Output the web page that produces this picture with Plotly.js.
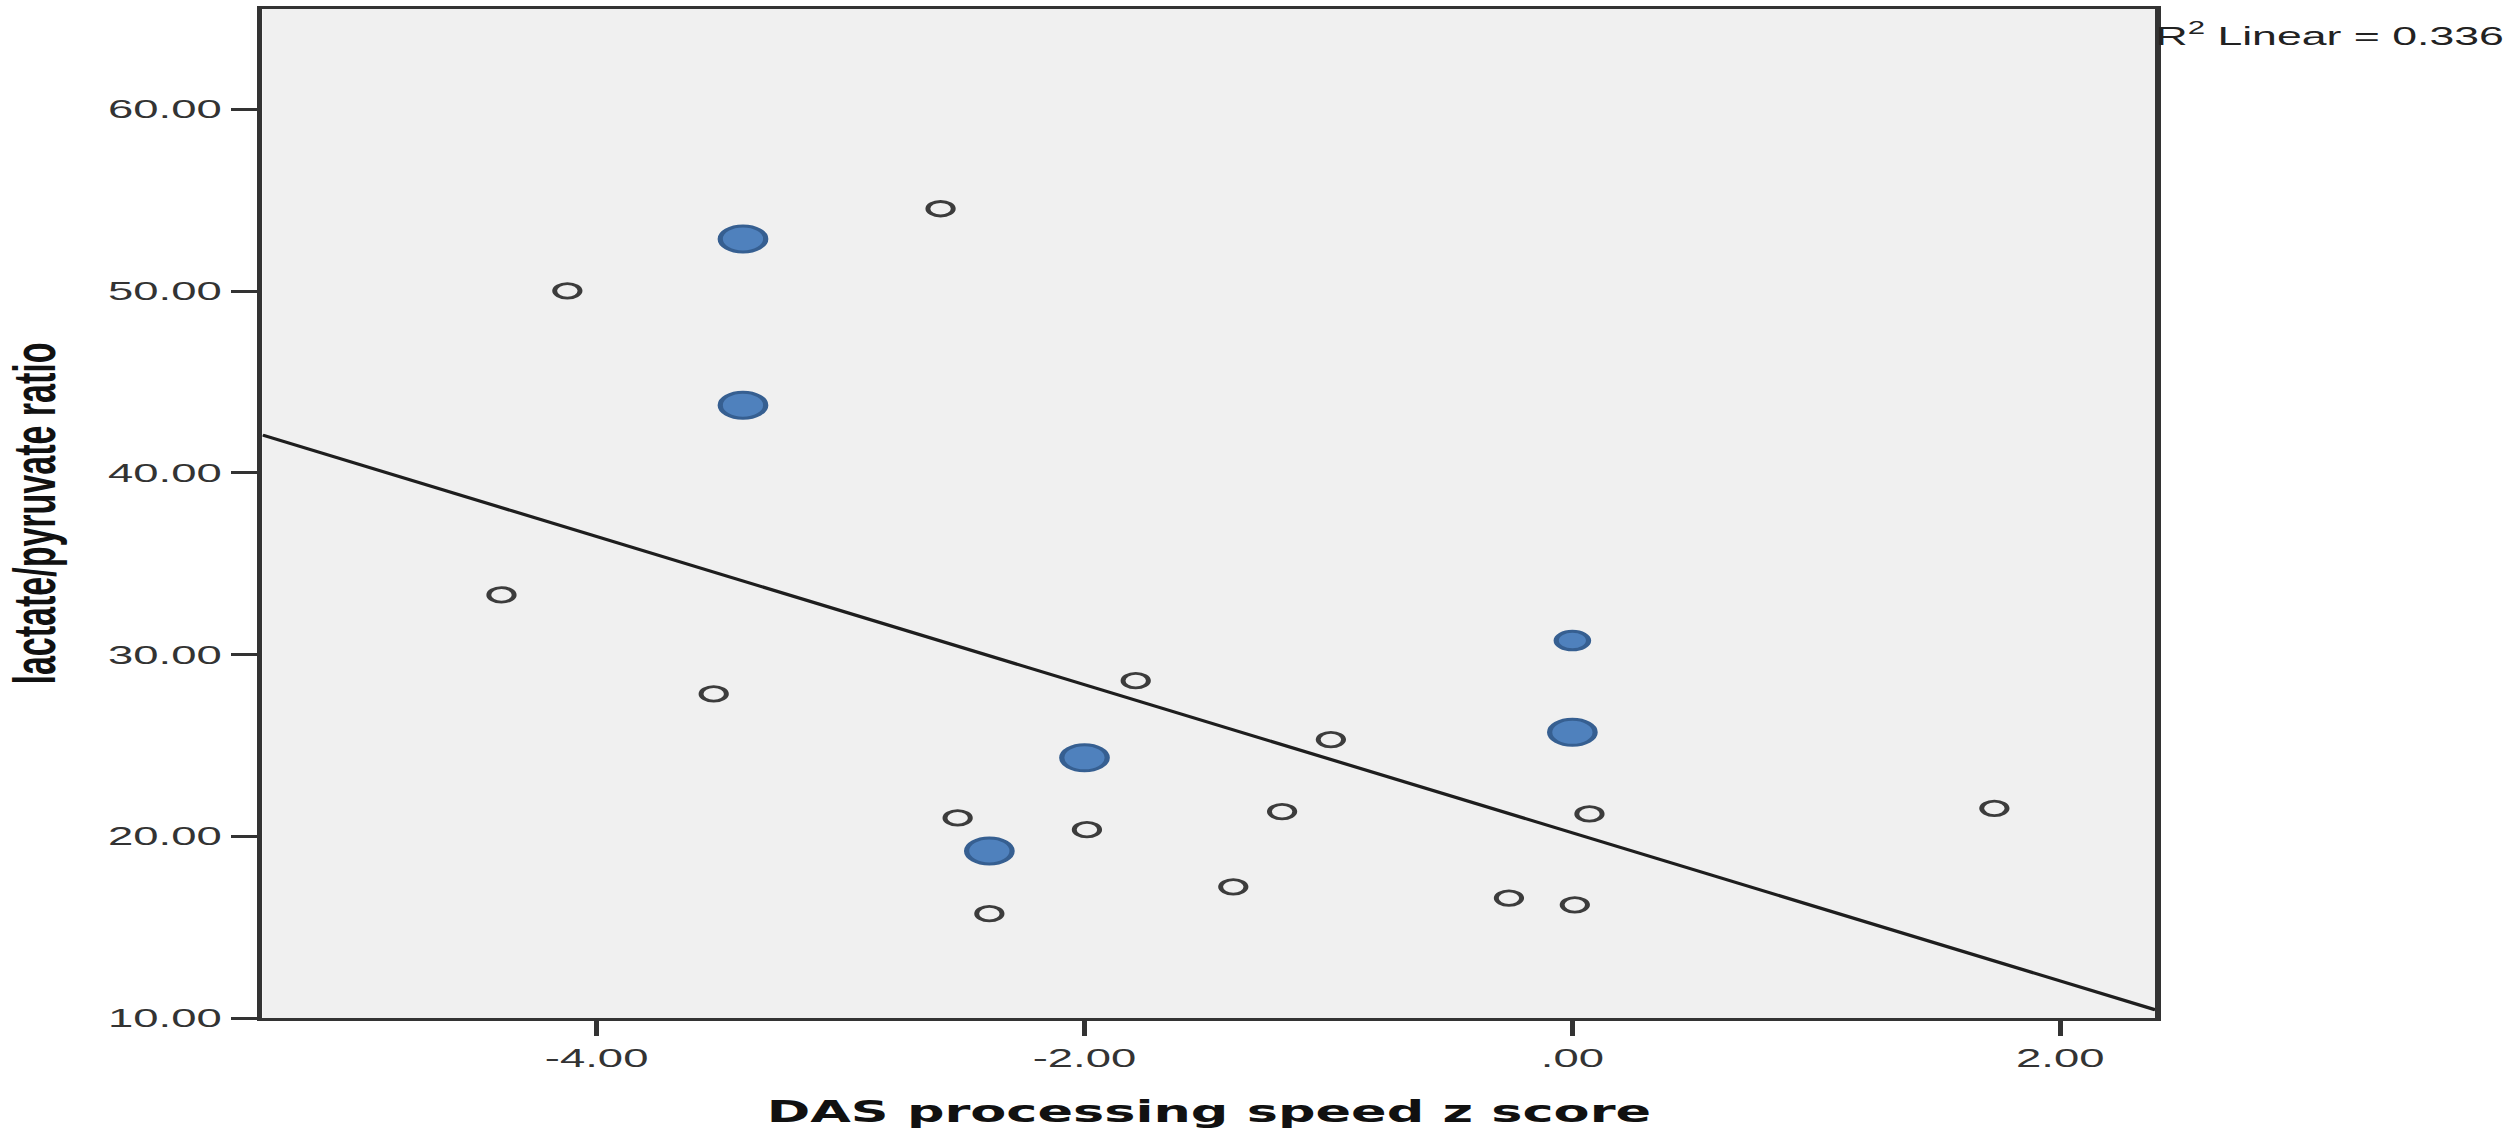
<!DOCTYPE html>
<html>
<head>
<meta charset="utf-8">
<script src="https://cdn.plot.ly/plotly-3.0.1.min.js"></script>
<style>
  html, body { margin: 0; padding: 0; background: #ffffff; overflow: hidden; }
  #wrap { width: 2507px; height: 1133px; overflow: hidden; }
  #chart { width: 1433px; height: 1133px; transform: scaleX(1.7495); transform-origin: 0 0; }
</style>
</head>
<body>
<div id="wrap"><div id="chart"></div></div>
<script>
// ---- data ----
const openX = [-4.39, -4.12, -3.52, -2.59, -2.52, -2.39, -1.99, -1.79, -1.39, -1.19, -0.99, -0.26, 0.01, 0.07, 1.73];
const openY = [33.28, 50.01, 27.83, 54.53, 21.01, 15.74, 20.36, 28.56, 17.22, 21.36, 25.32, 16.60, 16.23, 21.23, 21.54];
const blueX = [-3.40, -3.40, -2.39, -2.00, 0.00, 0.00];
const blueY = [52.87, 43.72, 19.19, 24.32, 30.77, 25.72];
const fitCoefficients = [20.19, -4.076];   // intercept, slope
const r2Linear = [0.336];
const xRange = [-5.37, 2.39];
const yRange = [10, 65.52];
const xTickVals = [-4, -2, 0, 2];
const xTickText = ["-4.00", "-2.00", ".00", "2.00"];
const yTickVals = [10, 20, 30, 40, 50, 60];
const yTickText = ["10.00", "20.00", "30.00", "40.00", "50.00", "60.00"];
const xTitle = "DAS processing speed z score";
const yTitle = "lactate/pyruvate ratio";

// fit line evaluated at the axis ends
const fitX = xRange.slice();
const fitY = fitX.map(x => fitCoefficients[0] + fitCoefficients[1] * x);

const FONT = "Liberation Sans, Arial, sans-serif";

const traces = [
  {
    type: "scatter", mode: "lines", x: fitX, y: fitY,
    line: { color: "#1e1e1e", width: 3 }, hoverinfo: "skip"
  },
  {
    type: "scatter", mode: "markers", x: openX, y: openY,
    marker: { symbol: "circle", size: 14.5, opacity: 1, color: "#f0f0f0", line: { color: "#3c3c3c", width: 2.8 } }
  },
  {
    type: "scatter", mode: "markers", x: blueX, y: blueY,
    marker: { symbol: "circle", size: [26, 26, 26, 26, 18.5, 26], opacity: 1, color: "#4f81bd", line: { color: "#365f91", width: 3 } }
  }
];

const axisCommon = {
  showgrid: false, zeroline: false,
  showline: true, linecolor: "#333333", linewidth: 3, mirror: true,
  ticks: "outside", ticklen: 15, tickwidth: 3, tickcolor: "#333333",
  tickfont: { family: FONT, size: 26, color: "#333333" }
};

const layout = {
  width: 1433, height: 1133,
  margin: { l: 150, r: 201, t: 9, b: 115, pad: 0 },
  paper_bgcolor: "#ffffff", plot_bgcolor: "#f0f0f0",
  showlegend: false,
  xaxis: Object.assign({}, axisCommon, {
    range: xRange, tickmode: "array", tickvals: xTickVals, ticktext: xTickText,
    title: { text: xTitle, standoff: 29, font: { family: "DejaVu Sans, Verdana, sans-serif", size: 30, weight: "bold", color: "#111111" } }
  }),
  yaxis: Object.assign({}, axisCommon, {
    range: yRange, tickmode: "array", tickvals: yTickVals, ticktext: yTickText,
    title: { text: yTitle, standoff: 20, font: { family: FONT, size: 34, weight: "bold", color: "#111111" } }
  }),
  annotations: [{
    xref: "paper", yref: "paper", x: 1, y: 1, xanchor: "left", yanchor: "top",
    xshift: -2, yshift: -7, showarrow: false,
    text: "R<sup>2</sup> Linear = " + r2Linear[0].toFixed(3),
    font: { family: FONT, size: 25.5, color: "#222222" }
  }]
};

Plotly.newPlot("chart", traces, layout, { displayModeBar: false, responsive: false });
</script>
</body>
</html>
